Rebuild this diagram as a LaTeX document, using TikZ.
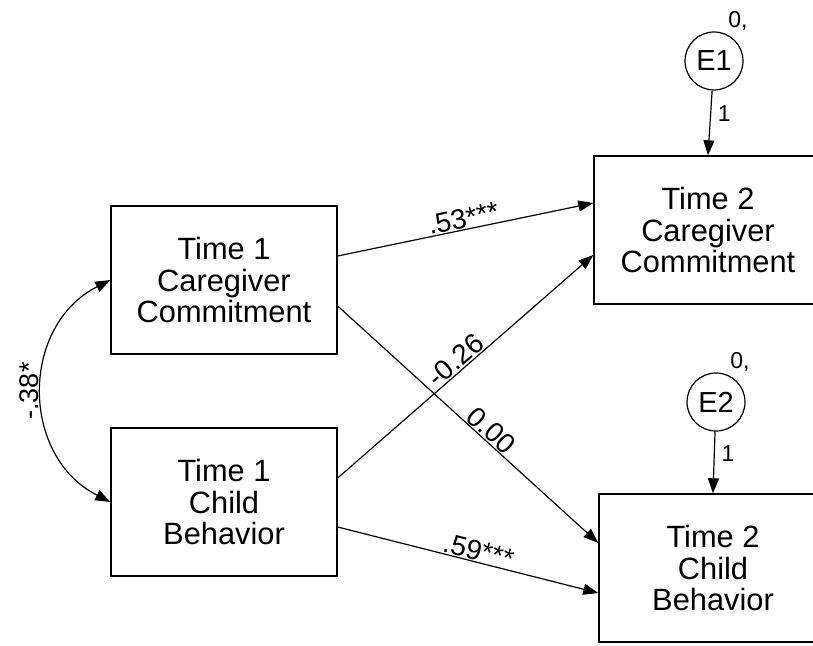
\documentclass[tikz,border=0pt]{standalone}
\usepackage{fontspec}
\setmainfont{Liberation Sans}
\usetikzlibrary{arrows.meta, positioning}

\begin{document}
\begin{tikzpicture}[x=0.5pt, y=-0.5pt,
  var/.style={draw, line width=0.7pt, minimum width=113pt, minimum height=74pt,
              align=center, font=\fontsize{15.4}{15.9}\selectfont},
  err/.style={circle, draw, line width=0.6pt, minimum size=29pt, inner sep=0pt,
              font=\fontsize{14.5}{14.5}\selectfont},
  reg/.style={-{Triangle[length=7.5pt, width=5.5pt]}, line width=0.6pt},
  cov/.style={{Triangle[length=7.5pt, width=5.5pt]}-{Triangle[length=7.5pt, width=5.5pt]},
              line width=0.6pt},
  coef/.style={font=\fontsize{14}{14}\selectfont, sloped, above, inner sep=0.5pt},
  small/.style={font=\fontsize{11.5}{11.5}\selectfont},
]
\useasboundingbox (0,0) rectangle (813,646);

\node[var] (cg1) at (224,280) {Time 1\\Caregiver\\Commitment};
\node[var] (cb1) at (224,502) {Time 1\\Child\\Behavior};
\node[var, minimum width=114pt] (cg2) at (708,230) {Time 2\\Caregiver\\Commitment};
\node[var, minimum width=114pt] (cb2) at (713,568) {Time 2\\Child\\Behavior};

\node[err] (e1) at (714,61) {E1};
\node[err] (e2) at (716,402) {E2};
\node[small, anchor=base] (v1) at ([shift={(24,-33)}]e1.center) {0,};
\node[small, anchor=base] (v2) at ([shift={(24,-33)}]e2.center) {0,};

\draw[reg] (e1) -- node[small, right, pos=0.35] {1} (cg2.north);
\draw[reg] (e2) -- node[small, right, pos=0.35] {1} (cb2.north);

\draw[reg] ([yshift=12pt]cg1.east) -- node[coef, pos=0.5] {.53***} ([yshift=13.5pt]cg2.west);
\draw[reg] ([yshift=-13pt]cg1.east) -- node[coef, pos=0.56] {0.00} ([yshift=12.5pt]cb2.west);
\draw[reg] ([yshift=12pt]cb1.east) -- node[coef, pos=0.49] {-0.26} ([yshift=-12.5pt]cg2.west);
\draw[reg] ([yshift=-12.5pt]cb1.east) -- node[coef, pos=0.53] {.59***} ([yshift=-12.5pt]cb2.west);

\draw[cov] (cg1.west) to[out=207, in=153, looseness=1.17]
  node[pos=0.5, anchor=south, rotate=90, inner sep=1.5pt,
       font=\fontsize{13.5}{13.5}\selectfont] {-.38*} (cb1.west);
\end{tikzpicture}
\end{document}
